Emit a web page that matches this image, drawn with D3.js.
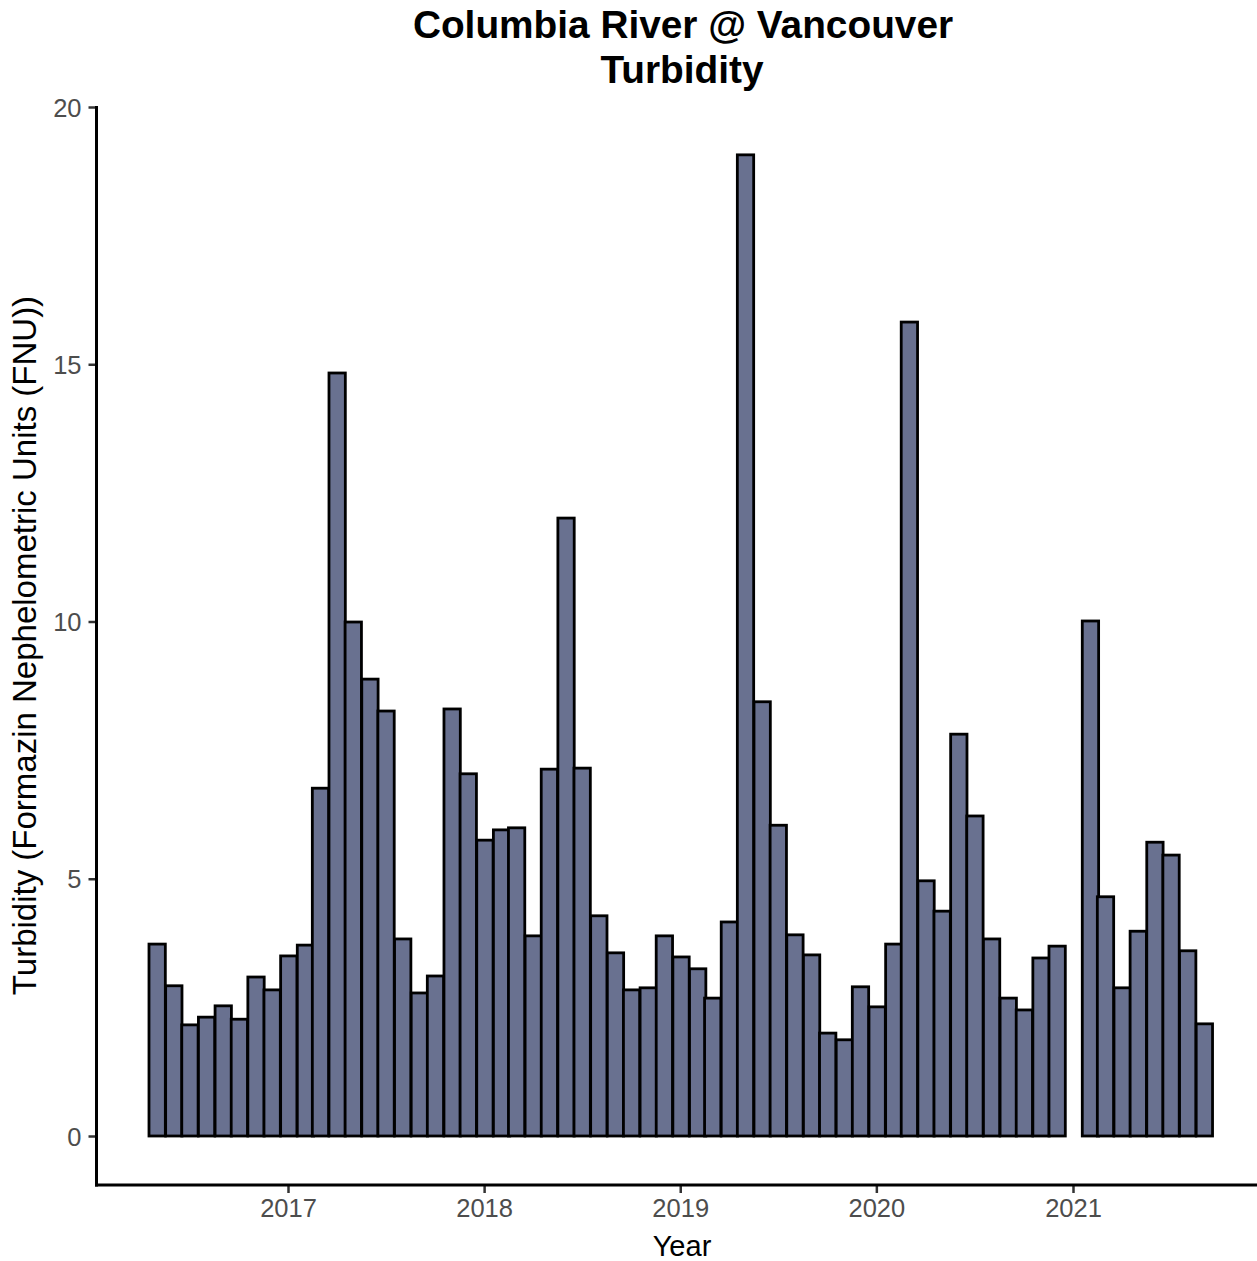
<!DOCTYPE html>
<html>
<head>
<meta charset="utf-8">
<script src="https://cdn.jsdelivr.net/npm/d3@7"></script>
<style>
  html, body { margin: 0; padding: 0; background: #fff; }
  svg { display: block; }
  svg text { font-family: "Liberation Sans", Arial, sans-serif; }
</style>
</head>
<body>
<svg id="chart" width="1257" height="1261"></svg>
<script>
// Monthly mean turbidity (FNU), one value per month; January 2021 has no sample.
const months = [
  "2016-05","2016-06","2016-07","2016-08","2016-09","2016-10","2016-11","2016-12",
  "2017-01","2017-02","2017-03","2017-04","2017-05","2017-06","2017-07","2017-08","2017-09","2017-10","2017-11","2017-12",
  "2018-01","2018-02","2018-03","2018-04","2018-05","2018-06","2018-07","2018-08","2018-09","2018-10","2018-11","2018-12",
  "2019-01","2019-02","2019-03","2019-04","2019-05","2019-06","2019-07","2019-08","2019-09","2019-10","2019-11","2019-12",
  "2020-01","2020-02","2020-03","2020-04","2020-05","2020-06","2020-07","2020-08","2020-09","2020-10","2020-11","2020-12",
  "2021-02","2021-03","2021-04","2021-05","2021-06","2021-07","2021-08","2021-09"
];
const turbidity = [
  3.73, 2.92, 2.16, 2.31, 2.53, 2.27, 3.09, 2.84,
  3.50, 3.71, 6.76, 14.83, 9.99, 8.88, 8.26, 3.83, 2.78, 3.11, 8.30, 7.04,
  5.75, 5.95, 5.99, 3.89, 7.13, 12.01, 7.15, 4.28, 3.56, 2.84, 2.88, 3.89,
  3.48, 3.25, 2.68, 4.16, 19.07, 8.44, 6.04, 3.91, 3.52, 2.00, 1.87, 2.90,
  2.51, 3.73, 15.82, 4.96, 4.37, 7.81, 6.22, 3.83, 2.68, 2.45, 3.46, 3.69,
  10.01, 4.65, 2.88, 3.98, 5.71, 5.46, 3.60, 2.18
];
const yTicks = [0, 5, 10, 15, 20];
const xTickYears = [2017, 2018, 2019, 2020, 2021];

const titleLines = ["Columbia River @ Vancouver", "Turbidity"];
const xTitle = "Year";
const yTitle = "Turbidity (Formazin Nephelometric Units (FNU))";

const parseMonth = d3.timeParse("%Y-%m");
const data = months.map((m, i) => ({ date: parseMonth(m), value: turbidity[i] }));

const svg = d3.select("#chart");

// Panel geometry
const panelLeft = 96.5, panelRight = 1257, panelTop = 106, panelBottom = 1185;

const x = d3.scaleTime()
  .domain([new Date(2017, 0, 1), new Date(2021, 0, 1)])
  .range([288, 1073]);

const y = d3.scaleLinear()
  .domain([0, 20])
  .range([1136, 107]);

const halfWidthMs = 15.2 * 24 * 3600 * 1000;
const fill = "#697190";
const tickFont = "25.5px";

// Bars
svg.append("g")
  .selectAll("rect")
  .data(data)
  .join("rect")
  .attr("x", d => x(new Date(+d.date - halfWidthMs)) + 0.8)
  .attr("width", d => x(new Date(+d.date + halfWidthMs)) - x(new Date(+d.date - halfWidthMs)))
  .attr("y", d => y(d.value))
  .attr("height", d => y(0) - y(d.value))
  .attr("fill", fill)
  .attr("stroke", "#000")
  .attr("stroke-width", 2.8);

// Y axis
const yAxis = svg.append("g")
  .attr("transform", `translate(${panelLeft},0)`)
  .call(d3.axisLeft(y).tickValues(yTicks).tickSize(8).tickPadding(7).tickFormat(d3.format("d")));
yAxis.attr("font-family", null).attr("font-size", null);
yAxis.select(".domain").remove();
yAxis.selectAll(".tick line").attr("stroke", "#333").attr("stroke-width", 2.5);
yAxis.selectAll(".tick text")
  .attr("fill", "#4d4d4d")
  .style("font-size", tickFont)
  .attr("dy", "0.36em");
svg.append("line")
  .attr("x1", panelLeft).attr("x2", panelLeft)
  .attr("y1", panelTop).attr("y2", panelBottom + 1.5)
  .attr("stroke", "#000").attr("stroke-width", 3);

// X axis
const xAxis = svg.append("g")
  .attr("transform", `translate(0,${panelBottom})`)
  .call(d3.axisBottom(x)
    .tickValues(xTickYears.map(yr => new Date(yr, 0, 1)))
    .tickSize(8).tickPadding(6)
    .tickFormat(d3.timeFormat("%Y")));
xAxis.attr("font-family", null).attr("font-size", null);
xAxis.select(".domain").remove();
xAxis.selectAll(".tick line").attr("stroke", "#333").attr("stroke-width", 2.5);
xAxis.selectAll(".tick text")
  .attr("fill", "#4d4d4d")
  .style("font-size", tickFont)
  .attr("dy", "0.71em");
svg.append("line")
  .attr("x1", panelLeft - 1.5).attr("x2", panelRight)
  .attr("y1", panelBottom).attr("y2", panelBottom)
  .attr("stroke", "#000").attr("stroke-width", 3);

// Titles
svg.append("text")
  .attr("x", 683).attr("y", 38)
  .attr("text-anchor", "middle")
  .style("font-size", "38.8px").style("font-weight", "bold")
  .text(titleLines[0]);
svg.append("text")
  .attr("x", 682).attr("y", 83)
  .attr("text-anchor", "middle")
  .style("font-size", "38.8px").style("font-weight", "bold")
  .text(titleLines[1]);

svg.append("text")
  .attr("x", 682).attr("y", 1256)
  .attr("text-anchor", "middle")
  .style("font-size", "29px")
  .text(xTitle);

svg.append("text")
  .attr("transform", `translate(36,${(panelTop + panelBottom) / 2}) rotate(-90)`)
  .attr("text-anchor", "middle")
  .style("font-size", "33px")
  .text(yTitle);
</script>
</body>
</html>
